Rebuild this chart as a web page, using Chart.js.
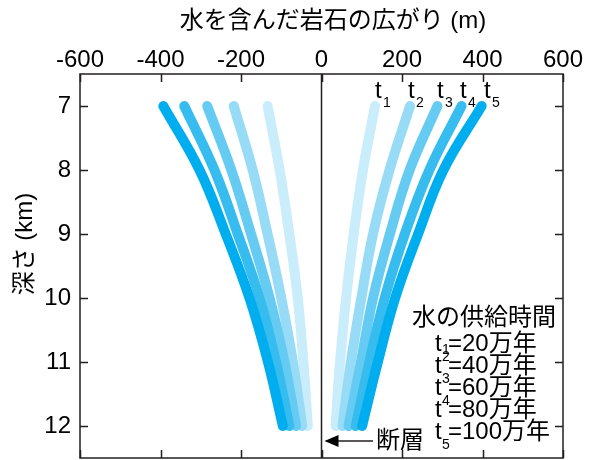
<!DOCTYPE html>
<html>
<head>
<meta charset="utf-8">
<script src="https://cdn.jsdelivr.net/npm/chart.js@4.4.0/dist/chart.umd.min.js"></script>
<style>
  html, body { margin: 0; padding: 0; background: #fff; }
</style>
</head>
<body>
<canvas id="my-chart" width="593" height="460"></canvas>
<script>
// depth (km) at which each curve was read
const depths = [7, 8, 9, 10, 11, 12];

// extent of water-bearing rock (m), left side of the fault
const leftT1 = [-134, -104, -80, -59, -45, -34];
const leftT2 = [-218, -171, -134, -100, -71, -48];
const leftT3 = [-284, -224, -175, -129, -92, -63];
const leftT4 = [-341, -266, -208, -154, -113, -80];
const leftT5 = [-393, -303, -238, -179, -133, -96];

// right side of the fault
const rightT1 = [133, 103, 80, 61, 46, 35];
const rightT2 = [220, 169, 128, 99, 73, 52];
const rightT3 = [288, 219, 170, 128, 98, 67];
const rightT4 = [348, 268, 207, 157, 119, 85];
const rightT5 = [398, 303, 240, 183, 140, 101];

const seriesNames = ['t1', 't2', 't3', 't4', 't5'];
const seriesColors = ['#c9edfb', '#97dbf6', '#66cbf2', '#36bcee', '#00adee'];
const xTicks = [-600, -400, -200, 0, 200, 400, 600];
const yTicks = [7, 8, 9, 10, 11, 12];
const xTitle = '水を含んだ岩石の広がり (m)';
const yTitle = '深さ (km)';
const legendTitle = '水の供給時間';
const legendValues = ['=20万年', '=40万年', '=60万年', '=80万年', '=100万年'];
const faultLabel = '断層';

const font = "'Liberation Sans', 'Noto Sans CJK JP', sans-serif";

function toPoints(xs) {
  return xs.map((x, i) => ({ x: x, y: depths[i] }));
}

const leftSeries = [leftT1, leftT2, leftT3, leftT4, leftT5];
const rightSeries = [rightT1, rightT2, rightT3, rightT4, rightT5];

// t5 first so lighter curves sit on top
const datasets = [];
for (let i = 4; i >= 0; i--) {
  [leftSeries[i], rightSeries[i]].forEach(xs => {
    datasets.push({
      label: seriesNames[i],
      data: toPoints(xs),
      borderColor: seriesColors[i],
      backgroundColor: seriesColors[i],
      borderWidth: 10,
      borderCapStyle: 'round',
      borderJoinStyle: 'round',
      pointRadius: 0,
      tension: 0.4,
      fill: false
    });
  });
}

// frame, inward ticks, zero line and the text annotations
const decorations = {
  id: 'decorations',
  afterDraw(chart) {
    const ctx = chart.ctx;
    const area = chart.chartArea;
    const xs = chart.scales.x;
    const ys = chart.scales.y;
    ctx.save();
    ctx.strokeStyle = '#231f20';
    ctx.lineWidth = 1.5;
    ctx.strokeRect(area.left, area.top, area.right - area.left, area.bottom - area.top);

    ctx.beginPath();
    xTicks.forEach(v => {
      const px = Math.round(xs.getPixelForValue(v)) + 0.5;
      ctx.moveTo(px, area.top);
      ctx.lineTo(px, area.top + 8);
      ctx.moveTo(px, area.bottom);
      ctx.lineTo(px, area.bottom - 8);
    });
    yTicks.forEach(v => {
      const py = Math.round(ys.getPixelForValue(v)) + 0.5;
      ctx.moveTo(area.left, py);
      ctx.lineTo(area.left + 8, py);
      ctx.moveTo(area.right, py);
      ctx.lineTo(area.right - 8, py);
    });
    ctx.stroke();

    // fault line at x = 0
    const zx = xs.getPixelForValue(0);
    ctx.beginPath();
    ctx.moveTo(zx, area.top);
    ctx.lineTo(zx, area.bottom);
    ctx.stroke();

    ctx.fillStyle = '#000';
    ctx.textBaseline = 'middle';

    // axis titles
    ctx.font = '24px ' + font;
    ctx.textAlign = 'center';
    ctx.fillText(xTitle, 333, 21);
    ctx.save();
    ctx.translate(25, 244);
    ctx.rotate(-Math.PI / 2);
    ctx.fillText(yTitle, 0, 0);
    ctx.restore();

    // t labels above the right-hand curves
    const tLabelX = [375, 408, 437, 460, 484];
    ctx.textAlign = 'left';
    tLabelX.forEach((x, i) => {
      ctx.font = '24px ' + font;
      ctx.fillText('t', x, 91);
      ctx.font = '14px ' + font;
      ctx.fillText(String(i + 1), x + 8, 103);
    });

    // legend block
    ctx.font = '24px ' + font;
    ctx.fillText(legendTitle, 412, 318);
    const rowY = [344, 366, 388, 410, 432];
    const subY = [350, 357, 379, 401, 445];
    legendValues.forEach((txt, i) => {
      ctx.font = '24px ' + font;
      ctx.fillText('t', 435, rowY[i]);
      ctx.fillText(txt, 448, rowY[i]);
      ctx.font = '14px ' + font;
      ctx.fillText(String(i + 1), 442, subY[i]);
    });

    // fault arrow
    const ay = 441;
    ctx.beginPath();
    ctx.moveTo(zx + 14, ay);
    ctx.lineTo(373, ay);
    ctx.stroke();
    ctx.beginPath();
    ctx.moveTo(zx + 3, ay);
    ctx.lineTo(zx + 17, ay - 6);
    ctx.lineTo(zx + 17, ay + 6);
    ctx.closePath();
    ctx.fill();
    ctx.font = '24px ' + font;
    ctx.fillText(faultLabel, 376, ay);
    ctx.restore();
  }
};

const ctx = document.getElementById('my-chart').getContext('2d');
const chart = new Chart(ctx, {
  type: 'line',
  data: { datasets: datasets },
  options: {
    responsive: false,
    animation: false,
    devicePixelRatio: 1,
    layout: { padding: { left: 0, right: 30, top: 0, bottom: 2 } },
    plugins: {
      legend: { display: false },
      tooltip: { enabled: false }
    },
    scales: {
      x: {
        type: 'linear',
        position: 'top',
        min: -600,
        max: 600,
        afterBuildTicks: s => { s.ticks = xTicks.map(v => ({ value: v })); },
        afterFit: s => { s.height = 74; s.paddingLeft = 0; s.paddingRight = 0; },
        grid: { display: false, drawTicks: false },
        border: { display: false },
        ticks: {
          padding: 2,
          color: '#000',
          maxRotation: 0,
          font: { family: font, size: 24, lineHeight: 1 }
        }
      },
      y: {
        type: 'linear',
        reverse: true,
        min: 6.5,
        max: 12.5,
        afterBuildTicks: s => { s.ticks = yTicks.map(v => ({ value: v })); },
        afterFit: s => { s.width = 80; s.paddingTop = 0; s.paddingBottom = 0; },
        grid: { display: false, drawTicks: false },
        border: { display: false },
        ticks: {
          padding: 9,
          color: '#000',
          font: { family: font, size: 24 }
        }
      }
    }
  },
  plugins: [decorations]
});
</script>
</body>
</html>
